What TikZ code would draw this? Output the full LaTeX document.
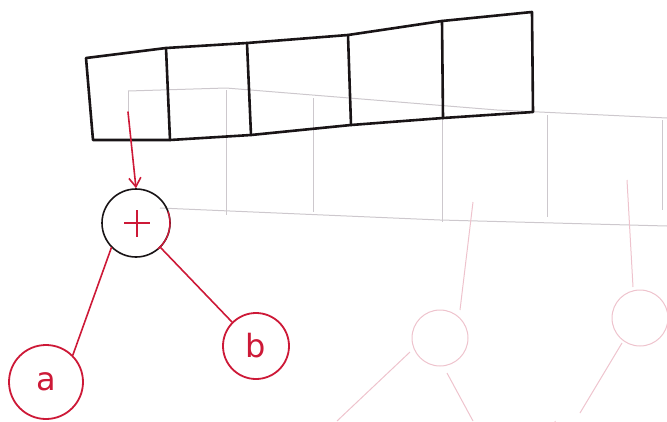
\documentclass[tikz,border=0pt]{standalone}
\usepackage{fontspec}
\setsansfont{DejaVu Sans}
\usetikzlibrary{arrows.meta}
\definecolor{ink}{RGB}{25,20,22}
\definecolor{redink}{RGB}{205,25,55}
\definecolor{faintgray}{RGB}{205,200,205}
\definecolor{faintred}{RGB}{238,195,205}
\tikzset{
  arr/.style={ink,line width=2.6pt,line cap=round,line join=round},
  div/.style={ink,line width=2.6pt,line cap=round},
  redline/.style={redink,line width=1.6pt,line cap=round},
  opnode/.style={circle,draw=ink,line width=1.6pt,minimum size=68pt,inner sep=0pt,font=\sffamily\fontsize{30}{30}\selectfont,text=redink},
  leaf/.style={circle,draw=redink,line width=1.8pt,inner sep=0pt,font=\sffamily\fontsize{32}{32}\selectfont,text=redink},
  ghost/.style={faintgray,line width=1pt},
  ghostred/.style={faintred,line width=1pt},
}
\begin{document}
\begin{tikzpicture}[x=1pt,y=-1pt]
\useasboundingbox (0,0) rectangle (667,421);
% faint show-through lines
\draw[ghost] (128,91) -- (226,88) -- (497,110) -- (667,118);
\draw[ghost] (128,91) -- (128,112);
\draw[ghost] (226,90) -- (226,215);
\draw[ghost] (313,98) -- (313,212);
\draw[ghost] (442,118) -- (442,222);
\draw[ghost] (547,115) -- (547,217);
\draw[ghost] (662,120) -- (662,210);
\draw[ghost] (160,208) -- (440,220) -- (667,226);
\draw[ghostred] (473,202) -- (460,310);
\draw[ghostred] (627,180) -- (633,287);
\draw[ghostred] (440,338) circle (28);
\draw[ghostred] (640,318) circle (28);
\draw[ghostred] (410,352) -- (337,421);
\draw[ghostred] (447,373) -- (473,421);
\draw[ghostred] (622,343) -- (580,413);
\draw[ghostred] (555,421) arc (180:90:15);
% array
\coordinate (tl) at (86,58);
\coordinate (t1) at (166,48);
\coordinate (t2) at (247,43);
\coordinate (t3) at (348,35);
\coordinate (t4) at (442,21);
\coordinate (tr) at (532,12);
\coordinate (bl) at (93,140);
\coordinate (b1) at (170,140);
\coordinate (b2) at (251,135);
\coordinate (b3) at (351,125);
\coordinate (b4) at (443,118);
\coordinate (br) at (533,112);
\draw[arr] (tl) -- (t1) -- (t2) -- (t3) -- (t4) -- (tr) -- (br) -- (b4) -- (b3) -- (b2) -- (b1) -- (bl) -- cycle;
\draw[div] (t1) -- (b1);
\draw[div] (t2) -- (b2);
\draw[div] (t3) -- (b3);
\draw[div] (t4) -- (b4);
% tree
\node[opnode] (plus) at (136,223) {};
\draw[redink,line width=1.8pt] (plus.center) ++(-12,0) -- ++(26,0);
\draw[redink,line width=1.8pt] (plus.center) ++(1,-13) -- ++(0,27);
\draw[redink,line width=1.4pt] (plus.center) ++(50:34) arc[start angle=50,end angle=-20,radius=34];
\node[leaf,minimum size=74pt] (a) at (46,382) {a};
\node[leaf,minimum size=66pt] (b) at (256,346) {b};
\coordinate (cell) at (128,112);
\draw[redline,-{Straight Barb[length=9pt,width=12pt]}] (cell) -- (plus.north);
\draw[redline] (plus.south west) -- (a.north east);
\draw[redline] (plus.south east) -- (b.north west);
\end{tikzpicture}
\end{document}
